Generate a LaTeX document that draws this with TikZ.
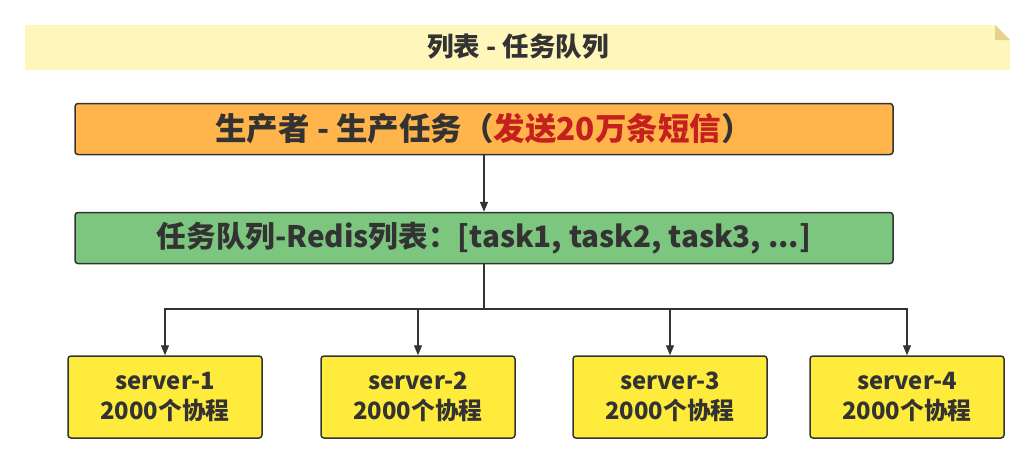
\documentclass[tikz,border=0pt]{standalone}
\usepackage{fontspec}
\setmainfont{Noto Sans CJK SC}
\usetikzlibrary{arrows.meta}
\definecolor{txt}{HTML}{333333}
\definecolor{bannerfill}{HTML}{FFF6BC}
\definecolor{foldfill}{HTML}{E6D28C}
\definecolor{orangefill}{HTML}{FFB54C}
\definecolor{greenfill}{HTML}{7DC67F}
\definecolor{yellowfill}{HTML}{FFEB3B}
\definecolor{redtxt}{HTML}{C4201D}
\tikzset{
  box/.style={draw=txt, line width=1.5pt, rounded corners=3pt, text=txt, font=\bfseries},
  wide/.style={box, minimum width=818pt, minimum height=51pt},
  srv/.style={box, fill=yellowfill, minimum width=194pt, minimum height=82pt, align=center, font=\bfseries\fontsize{23.8pt}{30pt}\selectfont},
  conn/.style={draw=txt, line width=1.4pt, -{Triangle[length=10pt,width=8pt]}},
  trunk/.style={draw=txt, line width=2pt},
}
\begin{document}
\begin{tikzpicture}[x=1pt,y=-1pt]
\useasboundingbox (0,0) rectangle (1036,463);
% banner
\fill[bannerfill] (25,25) -- (995,25) -- (1010,40) -- (1010,70) -- (25,70) -- cycle;
\fill[foldfill] (995,25) -- (1010,40) -- (995,40) -- cycle;
\node[text=txt, font=\bfseries\fontsize{26.5pt}{30pt}\selectfont] (title) at (518,47) {列表 - 任务队列};
% producer
\node[wide, fill=orangefill, font=\bfseries\fontsize{31.5pt}{36pt}\selectfont] (prod) at (484,129) {生产者 - 生产任务（\textcolor{redtxt}{发送20万条短信}）};
% queue
\node[wide, fill=greenfill, font=\bfseries\fontsize{29.6pt}{34pt}\selectfont] (queue) at (484,238) {任务队列-Redis列表：[task1, task2, task3, ...]};
% servers
\node[srv] (s1) at (165,397) {server-1\\2000个协程};
\node[srv] (s2) at (418,397) {server-2\\2000个协程};
\node[srv] (s3) at (670,397) {server-3\\2000个协程};
\node[srv] (s4) at (907,397) {server-4\\2000个协程};
% connectors
\draw[conn] (prod.south) -- (queue.north);
\coordinate (j) at (484,309);
\draw[trunk] (queue.south) -- (j);
\draw[conn] (j) -| (s1.north);
\draw[conn] (j) -| (s2.north);
\draw[conn] (j) -| (s3.north);
\draw[conn] (j) -| (s4.north);
\end{tikzpicture}
\end{document}
